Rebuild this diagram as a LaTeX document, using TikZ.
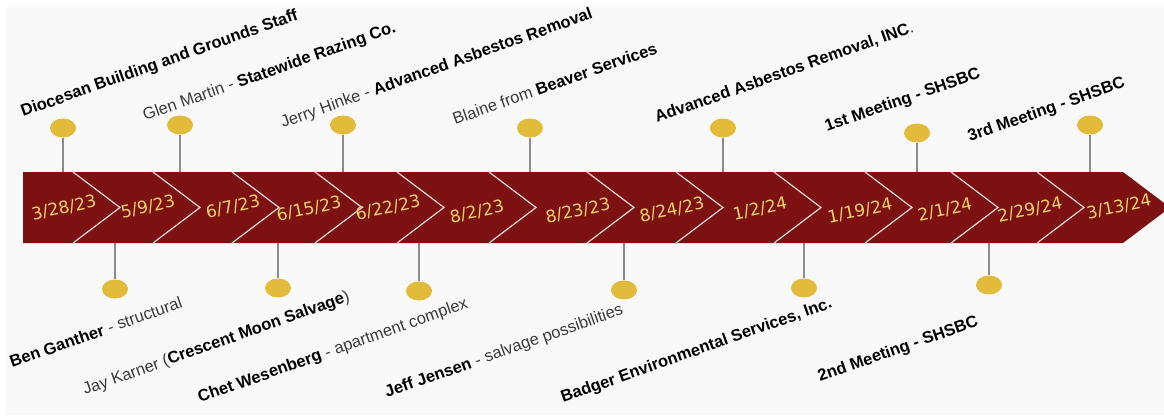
\documentclass[tikz,border=0pt]{standalone}
\usepackage{fontspec}
\setmainfont{Liberation Sans}
\newfontfamily\DateFont{DejaVu Sans}
\usepackage{tikz}
\usetikzlibrary{shapes.geometric}

\definecolor{BandRed}{HTML}{7D1111}
\definecolor{DateGold}{HTML}{F3D266}
\definecolor{PinGold}{HTML}{E3BB3B}
\definecolor{StemGray}{HTML}{8C8C8C}
\definecolor{NoteGray}{HTML}{3A3A3A}
\definecolor{PageGray}{HTML}{F9F9F9}

\def\BandTop{172}
\def\BandBot{243}
\def\BandMid{207.5}
\def\NotchDepth{47}

\newcommand{\Firm}[1]{\textbf{\color{black}#1}}

\NewDocumentCommand{\DrawPin}{O{} m m m m}{%
    \def\PinName{#2}
    \def\PinX{#3}
    \def\PinY{#4}
    \def\PinFootY{#5}
    %
    \coordinate (\PinName-foot) at (\PinX,\PinFootY);
    \node [pin dot, #1] (\PinName) at (\PinX,\PinY) {};
    \draw [pin stem] (\PinName-foot) -- (\PinName);
}

\begin{document}
\begin{tikzpicture}[
    x={(1pt,0pt)}, y={(0pt,-1pt)},% pixel grid of the chart, y runs down
    pin dot/.style={ellipse, fill=PinGold, minimum width=26pt, minimum height=19pt, inner sep=0pt},
    pin stem/.style={StemGray, line width=2pt},
    date label/.style={DateGold, font=\DateFont\fontsize{17}{17}\selectfont, rotate=12, inner sep=0pt},
    note/.style={NoteGray, font=\fontsize{16.5}{17}\selectfont, rotate=19.5, anchor=base west, inner sep=0pt},
    seam/.style={white!85!BandRed, line width=1.2pt},
    ]

    \fill[white] (0,0) rectangle (1164,415);
    \fill[PageGray] (6,7) rectangle (1164,415);
    \useasboundingbox (0,0) rectangle (1164,415);

    % the band
    \fill[BandRed] (23,\BandTop) -- (1123,\BandTop) -- (1123+\NotchDepth,\BandMid)
        -- (1123,\BandBot) -- (23,\BandBot) -- cycle;
    \foreach \sx in {73,153,232,315,397,489,587,676,774,865,951,1037}
        \draw[seam] (\sx,\BandTop) -- (\sx+\NotchDepth,\BandMid) -- (\sx,\BandBot);

    \node[date label] (d1) at (64,208) {3/28/23};
    \node[date label] (d2) at (148,207) {5/9/23};
    \node[date label] (d3) at (233,207) {6/7/23};
    \node[date label] (d4) at (309,209) {6/15/23};
    \node[date label] (d5) at (388,208) {6/22/23};
    \node[date label] (d6) at (477,212) {8/2/23};
    \node[date label] (d7) at (578,211) {8/23/23};
    \node[date label] (d8) at (672,210) {8/24/23};
    \node[date label] (d9) at (760,209) {1/2/24};
    \node[date label] (d10) at (860,211) {1/19/24};
    \node[date label] (d11) at (945,210) {2/1/24};
    \node[date label] (d12) at (1030,210) {2/29/24};
    \node[date label] (d13) at (1119,207) {3/13/24};

    % pins above
    \DrawPin{a1}{63}{128}{\BandTop}
    \DrawPin{a2}{180}{125}{\BandTop}
    \DrawPin{a3}{343}{125}{\BandTop}
    \DrawPin{a4}{530}{128}{\BandTop}
    \DrawPin{a5}{723}{128}{\BandTop}
    \DrawPin{a6}{917}{133}{\BandTop}
    \DrawPin{a7}{1090}{125}{\BandTop}
    % pins below
    \DrawPin{b1}{115}{289}{\BandBot}
    \DrawPin{b2}{278}{288}{\BandBot}
    \DrawPin{b3}{419}{291}{\BandBot}
    \DrawPin{b4}{624}{290}{\BandBot}
    \DrawPin{b5}{804}{288}{\BandBot}
    \DrawPin{b6}{989}{285}{\BandBot}

    \node[note] (na1) at (23,117) {\Firm{Diocesan Building and Grounds Staff}};
    \node[note] (na2) at (145,121) {Glen Martin - \Firm{Statewide Razing Co.}};
    \node[note] (na3) at (283,128) {Jerry Hinke - \Firm{Advanced Asbestos Removal}};
    \node[note] (na4) at (455,125) {Blaine from \Firm{Beaver Services}};
    \node[note] (na5) at (657,123) {\Firm{Advanced Asbestos Removal, INC}.};
    \node[note] (na6) at (827,132) {\Firm{1st Meeting - SHSBC}};
    \node[note] (na7) at (970,142) {\Firm{3rd Meeting - SHSBC}};

    \node[note] (nb1) at (12,368) {\Firm{Ben Ganther} - structural};
    \node[note] (nb2) at (85,395) {Jay Karner (\Firm{Crescent Moon Salvage})};
    \node[note] (nb3) at (200,403) {\Firm{Chet Wesenberg} - apartment complex};
    \node[note] (nb4) at (387,398) {\Firm{Jeff Jensen} - salvage possibilities};
    \node[note] (nb5) at (563,403) {\Firm{Badger Environmental Services, Inc.}};
    \node[note] (nb6) at (820,382) {\Firm{2nd Meeting - SHSBC}};

\end{tikzpicture}
\end{document}
